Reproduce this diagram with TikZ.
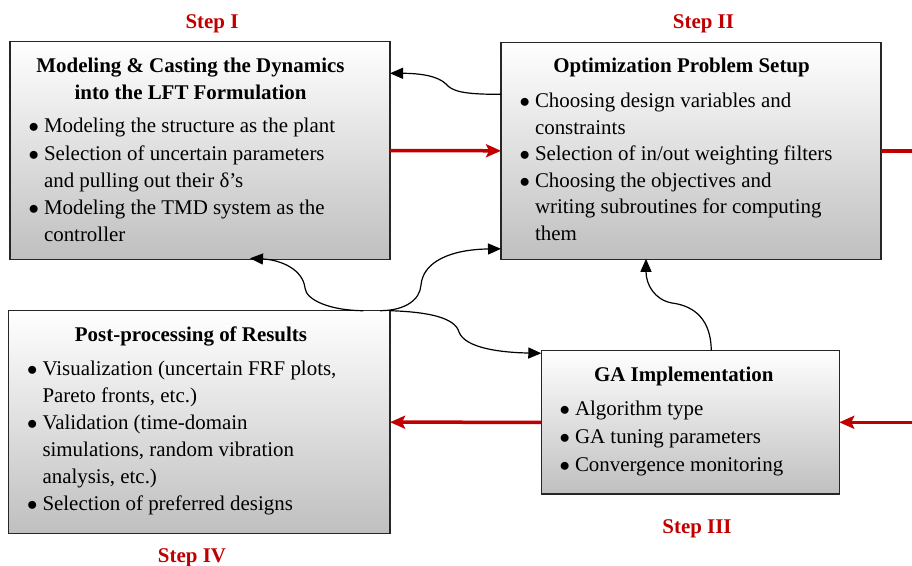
\documentclass[tikz,border=0pt]{standalone}
\usepackage{fontspec}
\setmainfont{Liberation Serif}
\usetikzlibrary{arrows.meta,calc}
\definecolor{stepred}{RGB}{192,0,0}
\newcommand\bl{\makebox[14.5bp][l]{\hspace*{-1bp}$\bullet$}}
\newcommand\nb{\hspace*{14.5bp}}
\begin{document}
\begin{tikzpicture}[x=1bp,y=-1bp,
  every node/.style={inner sep=0pt,outer sep=0pt},
  box/.style={rectangle,draw=black!85,line width=1.3bp,top color=white,bottom color=black!25},
  ttl/.style={anchor=base,font=\fontsize{21}{26.6}\selectfont\bfseries},
  steplbl/.style={anchor=base,text=stepred,font=\fontsize{21}{26.6}\selectfont\bfseries},
  redarrow/.style={draw=stepred,line width=3.5bp,-{Stealth[length=15bp,width=13bp,inset=3bp]}},
  redline/.style={draw=stepred,line width=3.5bp},
  blackarrow/.style={draw=black,line width=1.2bp,-{Triangle[length=13bp,width=11bp]}}
]
\useasboundingbox (0,0) rectangle (912,566);

% boxes
\node[box,minimum width=380bp,minimum height=217.6bp] (s1) at (200,150.5) {};
\node[box,minimum width=380bp,minimum height=217bp] (s2) at (691,150.8) {};
\node[box,minimum width=298bp,minimum height=143.3bp] (s3) at (690.3,422.3) {};
\node[box,minimum width=381.7bp,minimum height=223bp] (s4) at (199.2,422.2) {};

% step labels
\node[steplbl] (l1) at (212,28.3) {Step I};
\node[steplbl] (l2) at (703.5,28.3) {Step II};
\node[steplbl] (l3) at (697,533.7) {Step III};
\node[steplbl] (l4) at (192,562) {Step IV};

% titles
\node[ttl] (t1) at (190.5,72.7) {\begin{tabular}[t]{@{}c@{}}Modeling \& Casting the Dynamics\\ into the LFT Formulation\end{tabular}};
\node[ttl] (t2) at (681.5,72.7) {Optimization Problem Setup};
\node[ttl] (t3) at (683.8,381.3) {GA Implementation};
\node[ttl] (t4) at (191,341.3) {Post-processing of Results};

% lists
\node[anchor=base west,font=\fontsize{21}{27.2}\selectfont] (b1) at (29.5,133) {\begin{tabular}[t]{@{}l@{}}
\bl Modeling the structure as the plant\\
\bl Selection of uncertain parameters\\
\nb and pulling out their δ’s\\
\bl Modeling the TMD system as the\\
\nb controller\end{tabular}};
\node[anchor=base west,font=\fontsize{21}{26.6}\selectfont] (b2) at (520.5,107.7) {\begin{tabular}[t]{@{}l@{}}
\bl Choosing design variables and\\
\nb constraints\\
\bl Selection of in/out weighting filters\\
\bl Choosing the objectives and\\
\nb writing subroutines for computing\\
\nb them\end{tabular}};
\node[anchor=base west,font=\fontsize{21}{28.2}\selectfont] (b3) at (560.5,415.7) {\begin{tabular}[t]{@{}l@{}}
\bl Algorithm type\\
\bl GA tuning parameters\\
\bl Convergence monitoring\end{tabular}};
\node[anchor=base west,font=\fontsize{21}{27}\selectfont] (b4) at (28,375.7) {\begin{tabular}[t]{@{}l@{}}
\bl Visualization (uncertain FRF plots,\\
\nb Pareto fronts, etc.)\\
\bl Validation (time-domain\\
\nb simulations, random vibration\\
\nb analysis, etc.)\\
\bl Selection of preferred designs\end{tabular}};

% red flow
\coordinate (r1) at (912,150.8);
\coordinate (r2) at (912,422.3);
\draw[redarrow] (s1.east) -- (s2.west);
\draw[redline] (s2.east) -- (r1);
\draw[redarrow] (r2) -- (s3.east);
\draw[redarrow] (s3.west) -- (s4.east);

% black feedback curves
\draw[blackarrow] ($(s2.north west)+(0,52)$) .. controls (462,94.5) and (452,91) .. (446,84)
   .. controls (438,76) and (420,73.3) .. ($(s1.north east)+(0,31.6)$);
\draw[blackarrow] ($(s4.north west)+(355,0)$) .. controls (330,310.5) and (306,300) .. (305,288)
   .. controls (303,270) and (282,260) .. ($(s1.south west)+(240,-1)$);
\draw[blackarrow] ($(s4.north west)+(372,0)$) .. controls (405,310.5) and (420,300) .. (421,285)
   .. controls (423,262) and (450,249.5) .. ($(s2.south west)+(0,-10.5)$);
\draw[blackarrow] (s4.north east) .. controls (430,312) and (455,318) .. (459,332)
   .. controls (465,348) and (500,352.5) .. ($(s3.north west)+(0,2.6)$);
\draw[blackarrow] ($(s3.north west)+(170,0)$) .. controls (711,320) and (695,306) .. (672,303)
   .. controls (655,300) and (646,285) .. ($(s2.south west)+(145,-0.5)$);
\end{tikzpicture}
\end{document}
